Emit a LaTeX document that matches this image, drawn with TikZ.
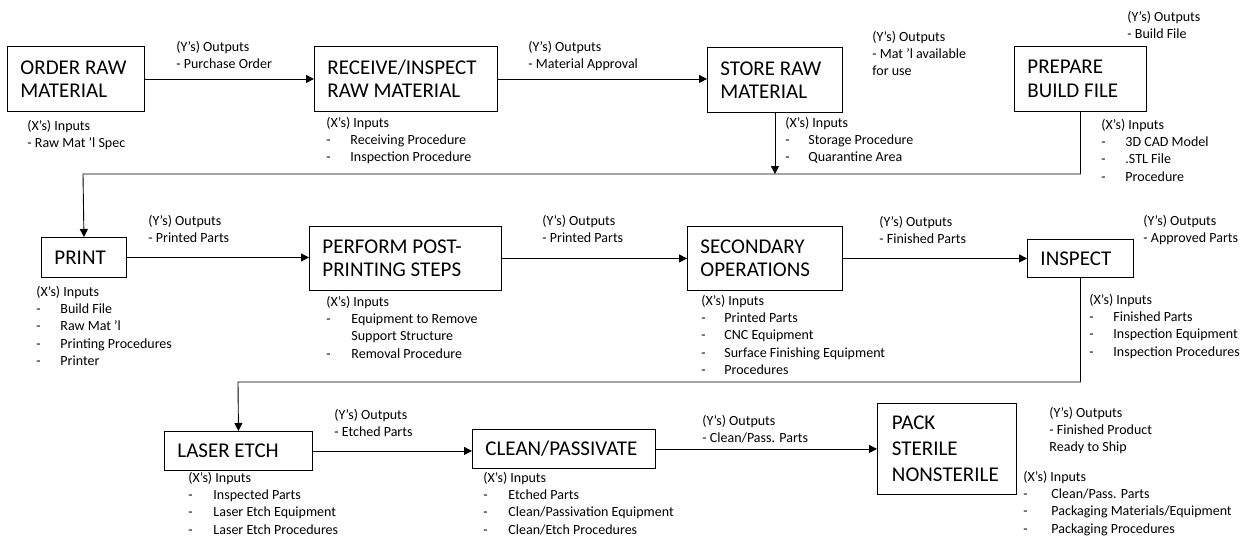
\documentclass[tikz,border=0pt]{standalone}
\usepackage{fontspec}
\setmainfont{Carlito}
\usetikzlibrary{arrows.meta}

\newcommand{\boxfont}{\fontsize{21}{23.5}\selectfont}
\newcommand{\lblfont}{\fontsize{14}{17.3}\selectfont}
\newcommand{\dashitem}[2][24pt]{\makebox[#1][l]{-}#2}

\tikzset{
	stepbox/.style={draw, anchor=north west, inner xsep=13pt, inner ysep=0pt, align=flush left, font=\boxfont},
	lbl/.style={anchor=north west, inner sep=0pt, align=flush left, font=\lblfont},
	flow/.style={-{Triangle[length=8pt,width=8pt]}}
}

\begin{document}
\begin{tikzpicture}[x=1pt, y=-1pt, line width=0.9pt]
		\useasboundingbox (0,0) rectangle (1246,538);

		% first row
		\node[stepbox, text width=111pt, minimum height=65pt] (order) at (7,46) {ORDER~RAW\\MATERIAL};
		\node[stepbox, text width=157pt, minimum height=65pt] (receive) at (314,46) {RECEIVE/INSPECT\\RAW~MATERIAL};
		\node[stepbox, text width=109pt, minimum height=65pt] (store) at (707,47) {STORE~RAW\\MATERIAL};
		\node[stepbox, text width=106pt, minimum height=65pt] (prepare) at (1014,46) {PREPARE\\BUILD~FILE};

		% second row
		\node[stepbox, text width=59pt, minimum height=40pt] (print) at (41,237) {PRINT};
		\node[stepbox, text width=166pt, minimum height=64pt] (perform) at (309,226) {PERFORM~POST-\\PRINTING~STEPS};
		\node[stepbox, text width=129pt, minimum height=64pt] (secondary) at (687,226) {SECONDARY\\OPERATIONS};
		\node[stepbox, text width=80pt, minimum height=38pt] (inspect) at (1027,239) {INSPECT};

		% third row
		\node[stepbox, text width=122pt, minimum height=39pt] (laser) at (164,431) {LASER~ETCH};
		\node[stepbox, text width=157pt, minimum height=39pt] (clean) at (472,429) {CLEAN/PASSIVATE};
		\node[stepbox, text width=110pt, inner xsep=14.5pt, minimum height=91pt, font=\fontsize{21}{26}\selectfont] (pack) at (877,403) {PACK\\STERILE\\NONSTERILE};

		% outputs
		\node[lbl] (outorder) at (176,40.5) {(Y’s) Outputs\\- Purchase Order};
		\node[lbl] (outreceive) at (528,40.5) {(Y’s) Outputs\\- Material Approval};
		\node[lbl] (outstore) at (872,30.5) {(Y’s) Outputs\\- Mat ’l available\\for use};
		\node[lbl] (outprepare) at (1127,10.5) {(Y’s) Outputs\\- Build File};
		\node[lbl] (outprint) at (148,214.5) {(Y’s) Outputs\\- Printed Parts};
		\node[lbl] (outperform) at (542,214.5) {(Y’s) Outputs\\- Printed Parts};
		\node[lbl] (outsecondary) at (879,215.5) {(Y’s) Outputs\\- Finished Parts};
		\node[lbl] (outinspect) at (1143,214.5) {(Y’s) Outputs\\- Approved Parts};
		\node[lbl] (outlaser) at (334,408.5) {(Y’s) Outputs\\- Etched Parts};
		\node[lbl] (outclean) at (702,414.5) {(Y’s) Outputs\\- Clean/Pass. Parts};
		\node[lbl] (outpack) at (1049,406.5) {(Y’s) Outputs\\- Finished Product\\Ready to Ship};

		% inputs
		\node[lbl] (inorder) at (27,119.5) {(X’s) Inputs\\- Raw Mat ’l Spec};
		\node[lbl] (inreceive) at (326,116.5) {(X’s) Inputs\\\dashitem{Receiving Procedure}\\\dashitem{Inspection Procedure}};
		\node[lbl] (instore) at (785,116.5) {(X’s) Inputs\\\dashitem[23pt]{Storage Procedure}\\\dashitem[23pt]{Quarantine Area}};
		\node[lbl] (inprepare) at (1101,118.5) {(X’s) Inputs\\\dashitem{3D CAD Model}\\\dashitem{.STL File}\\\dashitem{Procedure}};
		\node[lbl] (inprint) at (36,285.5) {(X’s) Inputs\\\dashitem{Build File}\\\dashitem{Raw Mat ’l}\\\dashitem{Printing Procedures}\\\dashitem{Printer}};
		\node[lbl] (inperform) at (326,295.5) {(X’s) Inputs\\\dashitem[25pt]{Equipment to Remove}\\\hspace*{25pt}Support Structure\\\dashitem[25pt]{Removal Procedure}};
		\node[lbl] (insecondary) at (701,294.5) {(X’s) Inputs\\\dashitem[23pt]{Printed Parts}\\\dashitem[23pt]{CNC Equipment}\\\dashitem[23pt]{Surface Finishing Equipment}\\\dashitem[23pt]{Procedures}};
		\node[lbl] (ininspect) at (1089,293.5) {(X’s) Inputs\\\dashitem{Finished Parts}\\\dashitem{Inspection Equipment}\\\dashitem{Inspection Procedures}};
		\node[lbl] (inlaser) at (188,471.5) {(X’s) Inputs\\\dashitem[25pt]{Inspected Parts}\\\dashitem[25pt]{Laser Etch Equipment}\\\dashitem[25pt]{Laser Etch Procedures}};
		\node[lbl] (inclean) at (483,471.5) {(X’s) Inputs\\\dashitem[25pt]{Etched Parts}\\\dashitem[25pt]{Clean/Passivation Equipment}\\\dashitem[25pt]{Clean/Etch Procedures}};
		\node[lbl] (inpack) at (1023,470.5) {(X’s) Inputs\\\dashitem[28pt]{Clean/Pass. Parts}\\\dashitem[28pt]{Packaging Materials/Equipment}\\\dashitem[28pt]{Packaging Procedures}};

		% turn points between rows
		\coordinate (bus1) at (83,174);
		\coordinate (bus2) at (238,382);

		\draw[flow] (order.east) -- (receive.west);
		\draw[flow] (receive.east) -- (receive.east -| store.west);
		\draw[flow] (store.south) -- (store.south |- bus1);
		\draw[flow] (prepare.south) |- (bus1) -- (print.north);

		\draw[flow] (print.east) -- (print.east -| perform.west);
		\draw[flow] (perform.east) -- (secondary.west);
		\draw[flow] (secondary.east) -- (inspect.west);
		\draw[flow] (inspect.south) |- (bus2) -- (laser.north);

		\draw[flow] (laser.east) -- (laser.east -| clean.west);
		\draw[flow] (clean.east) -- (pack.west);
	\end{tikzpicture}
\end{document}
